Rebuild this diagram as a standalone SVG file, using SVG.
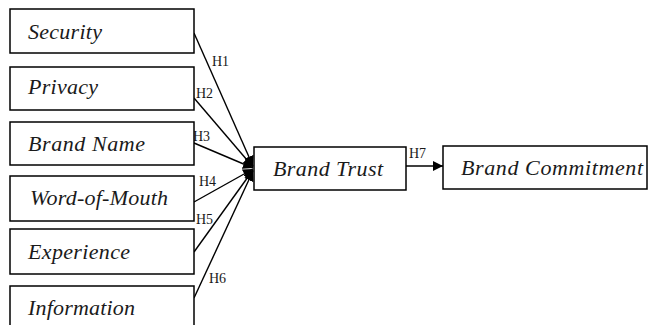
<svg xmlns="http://www.w3.org/2000/svg" width="652" height="325" viewBox="0 0 652 325">
<defs>
<marker id="ah" viewBox="0 0 10 10" refX="10" refY="5" markerWidth="10" markerHeight="10" markerUnits="userSpaceOnUse" orient="auto">
<path d="M0,0 L10,5 L0,10 Z" fill="#000"/>
</marker>
<style>
.box{fill:#fff;stroke:#000;stroke-width:1.5}
.lbl{font-family:"Liberation Serif","Times New Roman",serif;font-style:italic;font-size:22px;fill:#1a1a1a}
.h{font-family:"Liberation Serif","Times New Roman",serif;font-size:14px;fill:#1a1a1a}
.ln{stroke:#000;stroke-width:1.4;fill:none;marker-end:url(#ah)}
</style>
</defs>
<rect width="652" height="325" fill="#fff"/>
<g id="connectors">
<line class="ln" x1="194" y1="33" x2="253" y2="166"/>
<line class="ln" x1="194" y1="98" x2="253" y2="167"/>
<line class="ln" x1="194" y1="143" x2="253" y2="168"/>
<line class="ln" x1="194" y1="202" x2="253" y2="169"/>
<line class="ln" x1="194" y1="252" x2="253" y2="170"/>
<line class="ln" x1="194" y1="298" x2="253" y2="171"/>
<line class="ln" x1="406" y1="166" x2="443" y2="166"/>
<text class="h" x="212" y="66">H1</text>
<text class="h" x="196" y="98">H2</text>
<text class="h" x="193" y="141">H3</text>
<text class="h" x="199" y="186">H4</text>
<text class="h" x="196" y="224">H5</text>
<text class="h" x="209" y="283">H6</text>
<text class="h" x="409" y="158">H7</text>
</g>
<g id="security"><rect class="box" x="10" y="9" width="184" height="44"/><text class="lbl" x="28" y="39" textLength="74">Security</text></g>
<g id="privacy"><rect class="box" x="10" y="67" width="184" height="43"/><text class="lbl" x="28" y="94" textLength="70">Privacy</text></g>
<g id="brand-name"><rect class="box" x="10" y="122" width="184" height="43"/><text class="lbl" x="28" y="151" textLength="117">Brand Name</text></g>
<g id="word-of-mouth"><rect class="box" x="10" y="176" width="184" height="45"/><text class="lbl" x="30" y="205" textLength="138">Word-of-Mouth</text></g>
<g id="experience"><rect class="box" x="10" y="229" width="184" height="45"/><text class="lbl" x="28" y="259" textLength="102">Experience</text></g>
<g id="information"><rect class="box" x="10" y="286" width="184" height="50"/><text class="lbl" x="28" y="315" textLength="107">Information</text></g>
<g id="brand-trust"><rect class="box" x="254" y="147" width="152" height="43"/><text class="lbl" x="273" y="176" textLength="110">Brand Trust</text></g>
<g id="brand-commitment"><rect class="box" x="443" y="146" width="204" height="43"/><text class="lbl" x="461" y="175" textLength="182">Brand Commitment</text></g>
</svg>
